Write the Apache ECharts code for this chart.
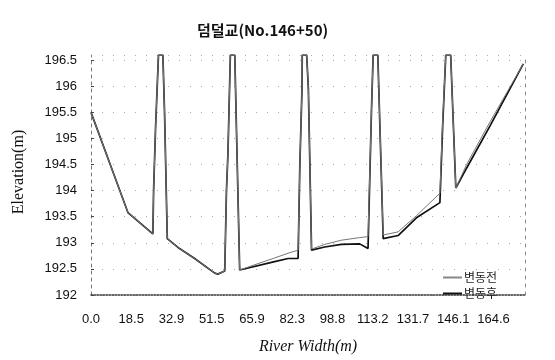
<!DOCTYPE html>
<html>
<head>
<meta charset="utf-8">
<script src="https://cdn.jsdelivr.net/npm/echarts@6/dist/echarts.min.js"></script>
<style>
html, body { margin: 0; padding: 0; background: #fff; }
#chart { width: 555px; height: 360px; }
</style>
</head>
<body>
<div id="chart"></div>
<script>
// 단면 거리(m) - 그림에서 읽은 값
var stations = [0, 15.1, 25.3, 25.6, 26.4, 27.6, 29.4, 30.1, 31.2, 36.2, 42.4, 50.6, 51.9, 54.7,
	55.4, 56.0, 57.0, 58.8, 60.8, 75.1, 80.6, 84.7, 85.4, 86.3, 86.4, 88.2, 88.9, 90.2, 95.6,
	102.4, 109.9, 113.3, 114.7, 115.4, 117.3, 119.5, 125.6, 133.1, 142.7, 143.8, 145.1, 147.1,
	149.2, 153.6, 163.2, 176.8];
// 변동전 표고
var beforeElev = [195.5, 193.58, 193.17, 194.0, 195.2, 196.6, 196.6, 195.46, 193.08, 192.89, 192.70, 192.42, 192.40, 192.46,
	194.0, 194.7, 196.6, 196.6, 192.48, 192.71, 192.80, 192.86, 194.46, 195.97, 196.6, 196.6, 195.96, 192.88, 192.97,
	193.05, 193.10, 193.12, 195.52, 196.6, 196.6, 193.15, 193.21, 193.52, 193.95, 195.3, 196.6, 196.6,
	194.05, 194.5, 195.32, 196.43];
// 변동후 표고
var afterElev = [195.5, 193.58, 193.17, 194.0, 195.2, 196.6, 196.6, 195.46, 193.08, 192.89, 192.70, 192.42, 192.40, 192.46,
	194.0, 194.7, 196.6, 196.6, 192.48, 192.64, 192.70, 192.70, 194.46, 195.97, 196.6, 196.6, 195.96, 192.86, 192.92,
	192.97, 192.98, 192.89, 195.52, 196.6, 196.6, 193.08, 193.14, 193.48, 193.77, 195.21, 196.6, 196.6,
	194.05, 194.43, 195.24, 196.43];
// x축 눈금 라벨
var xLabels = ['0.0', '18.5', '32.9', '51.5', '65.9', '82.3', '98.8', '113.2', '131.7', '146.1', '164.6'];
var seriesNames = ['변동전', '변동후'];

var xStep = 16.46;

function pairs(ys) {
	var out = [];
	for (var i = 0; i < stations.length; i++) {
		out.push([stations[i], ys[i]]);
	}
	return out;
}

var myChart = echarts.init(document.getElementById('chart'));
var option = {
	animation: false,
	backgroundColor: '#fff',
	title: {
		text: '덤덜교(No.146+50)',
		left: 192,
		top: 18,
		textStyle: {
			fontFamily: 'Noto Sans CJK KR',
			fontSize: 15,
			fontWeight: 'bold',
			color: '#111'
		}
	},
	legend: {
		orient: 'vertical',
		left: 438,
		top: 266,
		itemGap: 3,
		itemWidth: 19,
		itemHeight: 2,
		data: [{ name: seriesNames[0], icon: 'rect' }, { name: seriesNames[1], icon: 'rect' }],
		textStyle: {
			fontFamily: 'Noto Sans CJK KR',
			fontSize: 12,
			lineHeight: 13,
			color: '#222',
			padding: [0, 0, 0, -3]
		}
	},
	grid: {
		left: 91,
		right: 30,
		top: 55,
		bottom: 61
	},
	xAxis: {
		type: 'value',
		min: 0,
		max: 177.5,
		interval: xStep,
		name: 'River Width(m)',
		nameLocation: 'middle',
		nameGap: 44,
		nameTextStyle: {
			fontFamily: 'Liberation Serif',
			fontStyle: 'italic',
			fontSize: 16,
			color: '#111'
		},
		axisLine: {
			onZero: false,
			lineStyle: { color: '#333', width: 1.5, type: 'dotted' }
		},
		axisTick: { show: false },
		splitLine: { show: false },
		axisLabel: {
			margin: 18,
			fontFamily: 'Liberation Sans',
			fontSize: 13,
			color: '#111',
			showMaxLabel: false,
			formatter: function (v) {
				var k = Math.round(v / xStep);
				if (Math.abs(k * xStep - v) > 0.01 || k > 10) return '';
				return xLabels[k];
			}
		}
	},
	yAxis: [{
		type: 'value',
		min: 192,
		max: 196.6,
		interval: 0.5,
		axisLine: {
			show: true,
			lineStyle: { color: '#777', width: 1, type: [3, 4] }
		},
		axisTick: {
			show: true,
			inside: true,
			length: 3,
			lineStyle: { color: '#444' }
		},
		splitLine: {
			show: true,
			lineStyle: { color: '#aaa', width: 1, type: [1, 10] }
		},
		axisLabel: {
			margin: 14,
			fontFamily: 'Liberation Sans',
			fontSize: 13,
			color: '#111',
			showMaxLabel: false,
			formatter: function (v) {
				if (Math.abs(v * 2 - Math.round(v * 2)) > 0.001) return '';
				return String(v);
			}
		}
	}, {
		type: 'value',
		position: 'right',
		min: 192,
		max: 196.6,
		interval: 0.5,
		axisLine: {
			show: true,
			lineStyle: { color: '#888', width: 1, type: [3, 5] }
		},
		axisTick: { show: false },
		axisLabel: { show: false },
		splitLine: { show: false }
	}],
	graphic: [{
		type: 'text',
		x: 19,
		y: 172,
		rotation: Math.PI / 2,
		style: {
			text: 'Elevation(m)',
			fontFamily: 'Liberation Serif',
			fontSize: 16,
			fill: '#111',
			align: 'center',
			verticalAlign: 'middle'
		}
	}],
	series: [{
		name: seriesNames[0],
		type: 'line',
		symbol: 'none',
		clip: true,
		data: pairs(beforeElev),
		lineStyle: { color: '#777', width: 1 },
		itemStyle: { color: '#888' },
		z: 3
	}, {
		name: seriesNames[1],
		type: 'line',
		symbol: 'none',
		clip: true,
		data: pairs(afterElev),
		lineStyle: { color: '#111', width: 1.7 },
		itemStyle: { color: '#111' },
		z: 2
	}]
};
myChart.setOption(option);
</script>
</body>
</html>
